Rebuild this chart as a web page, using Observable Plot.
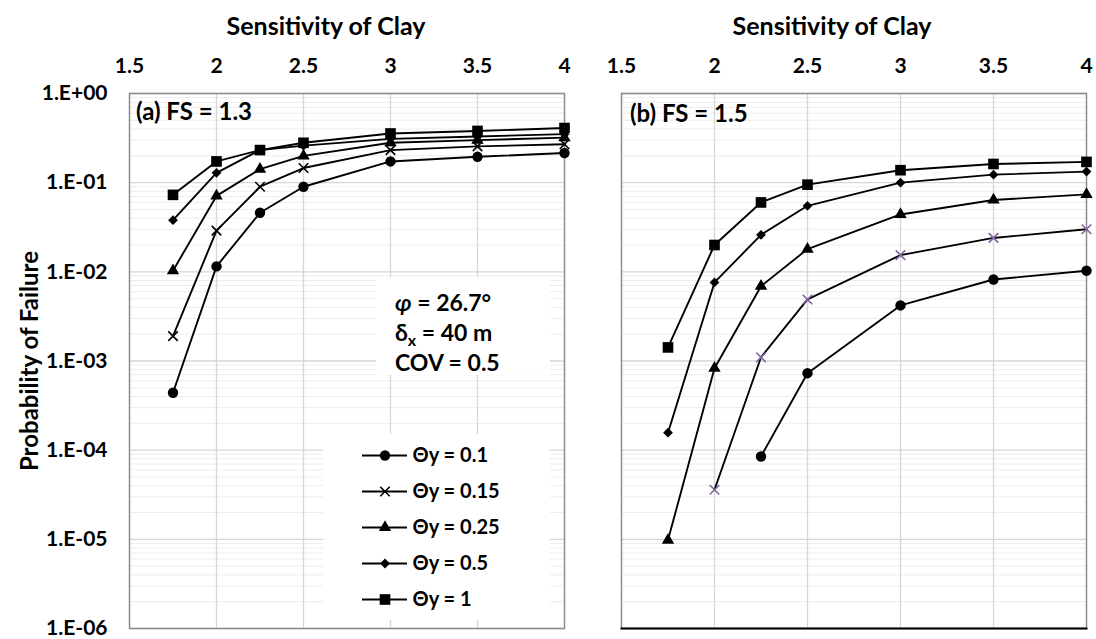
<!DOCTYPE html>
<html><head><meta charset="utf-8">
<script src="https://cdn.jsdelivr.net/npm/d3@7"></script>
<script src="https://cdn.jsdelivr.net/npm/@observablehq/plot@0.6"></script>
<style>
body{margin:0;background:#fff;}
#wrap{position:relative;width:1096px;height:639px;overflow:hidden;font-family:Lato,"Open Sans",sans-serif;font-weight:700;color:#000;}
.abs{position:absolute;}
.title{font-size:25px;text-align:center;width:300px;line-height:30px;white-space:nowrap;}
</style></head><body><div id="wrap"></div>
<script>
// ---- data ----
const sensitivity = [1.75, 2, 2.25, 2.5, 3, 3.5, 4];
const xTicks = [1.5, 2, 2.5, 3, 3.5, 4];
const yTicks = [1, 1e-1, 1e-2, 1e-3, 1e-4, 1e-5, 1e-6];
const thetaLabels = ["Θy = 0.1", "Θy = 0.15", "Θy = 0.25", "Θy = 0.5", "Θy = 1"];
// FS = 1.3
const fs13_t010 = [0.00044, 0.0115, 0.046, 0.090, 0.173, 0.195, 0.215];
const fs13_t015 = [0.0019, 0.029, 0.090, 0.146, 0.232, 0.255, 0.270];
const fs13_t025 = [0.0103, 0.071, 0.142, 0.200, 0.280, 0.300, 0.320];
const fs13_t050 = [0.038, 0.129, 0.232, 0.260, 0.310, 0.330, 0.350];
const fs13_t100 = [0.073, 0.173, 0.232, 0.280, 0.356, 0.380, 0.410];
// FS = 1.5
const fs15_t010 = [null, null, 0.000085, 0.00073, 0.0042, 0.0082, 0.0103];
const fs15_t015 = [null, 0.000036, 0.0011, 0.0049, 0.0154, 0.024, 0.030];
const fs15_t025 = [0.0000098, 0.00083, 0.0069, 0.018, 0.044, 0.064, 0.074];
const fs15_t050 = [0.000157, 0.0076, 0.026, 0.055, 0.100, 0.123, 0.133];
const fs15_t100 = [0.00142, 0.020, 0.060, 0.095, 0.138, 0.162, 0.171];

// ---- styles ----
const markerStyle = [
  {symbol: "circle", r: 5.2},
  {symbol: "times", r: 4.4},
  {symbol: "triangle", r: 4.6},
  {symbol: "diamond2", r: 4.4},
  {symbol: "square", r: 6.0}
];
const FONT = "Lato, 'Open Sans', sans-serif";

function toRows(seriesList) {
  const rows = [];
  seriesList.forEach((vals, i) => vals.forEach((v, j) => {
    if (v != null) rows.push({s: i, x: sensitivity[j], y: v});
  }));
  return rows;
}
const dataA = toRows([fs13_t010, fs13_t015, fs13_t025, fs13_t050, fs13_t100]);
const dataB = toRows([fs15_t010, fs15_t015, fs15_t025, fs15_t050, fs15_t100]);

const minorTicks = [];
for (let e = -6; e < 0; e++) for (let m = 2; m <= 9; m++) minorTicks.push(m * Math.pow(10, e));
const fmtY = d => { const e = Math.round(Math.log10(d)); return "1.E" + (e >= 0 ? "+" : "-") + String(Math.abs(e)).padStart(2, "0"); };

function dotMarks(data, timesColor) {
  return markerStyle.map((m, i) => Plot.dot(data.filter(d => d.s === i), {
    x: "x", y: "y", symbol: m.symbol, r: m.r,
    fill: m.symbol === "times" ? "none" : "#000",
    stroke: m.symbol === "times" ? timesColor : "none",
    strokeWidth: 1.6
  }));
}

function panel(data, opts) {
  return Plot.plot({
    width: opts.width, height: 639,
    marginLeft: opts.ml, marginRight: opts.mr, marginTop: 93, marginBottom: 11,
    style: {fontFamily: FONT, fontSize: "21px", fontWeight: "bold", background: "transparent", color: "#000", overflow: "visible"},
    x: {domain: [1.5, 4], axis: null},
    y: {type: "log", domain: [1e-6, 1], axis: null},
    marks: [
      Plot.ruleY(minorTicks, {stroke: "#ededed", strokeWidth: 1}),
      Plot.ruleY(yTicks, {stroke: "#d6d6d6", strokeWidth: 1.3}),
      Plot.ruleX([2, 2.5, 3, 3.5], {stroke: "#d6d6d6", strokeWidth: 1.3}),
      Plot.frame({stroke: "#8c8c8c", strokeWidth: 1.5}),
      opts.darkBottom ? Plot.frame({anchor: "bottom", stroke: "#000", strokeWidth: 2}) : null,
      Plot.axisX(xTicks, {anchor: "top", label: null, tickSize: 0, tickPadding: 21, tickFormat: d => String(d)}),
      opts.yAxis ? Plot.axisY(yTicks, {anchor: "left", label: null, tickSize: 0, tickPadding: 22, tickFormat: fmtY}) : null,
      Plot.line(data, {x: "x", y: "y", z: "s", stroke: "#000", strokeWidth: 1.9}),
      ...dotMarks(data, opts.timesColor)
    ]
  });
}

const wrap = document.getElementById("wrap");
function place(el, left, top) { el.classList.add("abs"); el.style.left = left + "px"; el.style.top = top + "px"; wrap.appendChild(el); return el; }

place(panel(dataA, {width: 580, ml: 129, mr: 16, yAxis: true, timesColor: "#000"}), 0, 0);
place(panel(dataB, {width: 516, ml: 41, mr: 10, yAxis: false, darkBottom: true, timesColor: "#8064A2"}), 580, 0);

// axis titles
function textDiv(html, cls, left, top, extra) {
  const d = document.createElement("div"); d.className = cls || ""; d.innerHTML = html;
  Object.assign(d.style, extra || {});
  return place(d, left, top);
}
textDiv("Sensitivity of Clay", "title", 176, 10);
textDiv("Sensitivity of Clay", "title", 682, 10);
textDiv("Probability of Failure", "title", 29 - 150, 346, {transform: "rotate(-90deg)", transformOrigin: "150px 15px", fontSize: "24px"});

// panel labels
textDiv("(a) FS = 1.3", "", 136, 96, {fontSize: "24px", whiteSpace: "nowrap"});
textDiv("(b) FS = 1.5", "", 630, 98, {fontSize: "24px", whiteSpace: "nowrap"});

// annotation box
textDiv("<i>φ</i> = 26.7°<br>δ<sub style='font-size:16px;vertical-align:-5px;line-height:0'>x</sub> = 40 m<br>COV = 0.5", "", 376, 277,
  {width: "174px", height: "98px", background: "#fff", fontSize: "23px", lineHeight: "30px", paddingLeft: "19px", boxSizing: "border-box", paddingTop: "10px", whiteSpace: "nowrap"});

// legend
const legend = Plot.plot({
  width: 227, height: 186,
  marginLeft: 39, marginRight: 143, marginTop: 20, marginBottom: 20,
  style: {fontFamily: FONT, fontSize: "20px", fontWeight: "bold", background: "#fff", color: "#000"},
  x: {domain: [0, 1], axis: null},
  y: {type: "point", domain: thetaLabels, padding: 0, axis: null},
  marks: [
    Plot.ruleY(thetaLabels, {x1: 0, x2: 1, y: d => d, stroke: "#000", strokeWidth: 2}),
    ...markerStyle.map((m, i) => Plot.dot([thetaLabels[i]], {x: 0.5, y: d => d, symbol: m.symbol, r: m.r,
      fill: m.symbol === "times" ? "none" : "#000", stroke: m.symbol === "times" ? "#000" : "none", strokeWidth: 1.6})),
    Plot.text(thetaLabels, {x: 1, y: d => d, text: d => d, textAnchor: "start", dx: 5, fill: "#000"})
  ]
});
place(legend, 323, 434);
</script>
</body></html>
